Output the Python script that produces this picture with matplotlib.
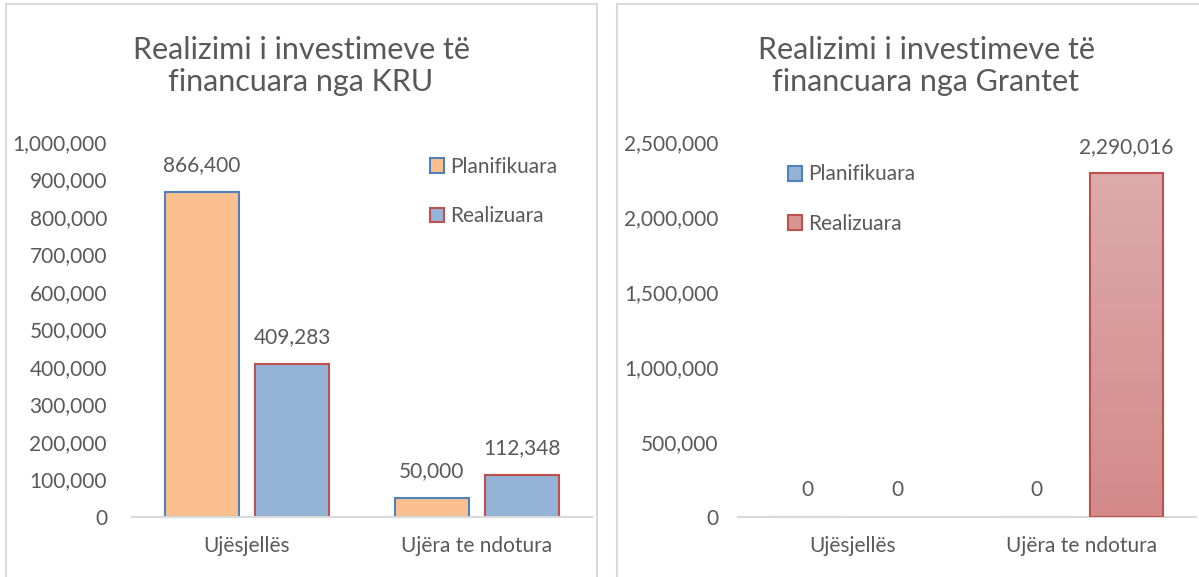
import matplotlib.pyplot as plt
import numpy as np
from matplotlib.patches import Rectangle
from matplotlib.ticker import FuncFormatter
from matplotlib.colors import LinearSegmentedColormap

plt.rcParams['font.family'] = ['Lato', 'DejaVu Sans']

kategorite = ['Ujësjellës', 'Ujëra te ndotura']
seritë = ['Planifikuara', 'Realizuara']
kru_plan = [866400, 50000]
kru_real = [409283, 112348]
grant_plan = [0, 0]
grant_real = [0, 2290016]

gri = '#595959'
blu_fill, blu_edge = '#95B3D7', '#4F81BD'
port_fill = '#FAC090'
kuq_edge = '#C0504D'

W, H = 1199, 577
fig = plt.figure(figsize=(W / 100, H / 100), dpi=100)

# korniza e paneleve
for x0, x1 in [(6, 597), (617, 1205)]:
    fig.patches.append(Rectangle((x0 / W, -0.01), (x1 - x0) / W, (H - 4) / H + 0.01,
                                 transform=fig.transFigure, fill=False,
                                 edgecolor='#D9D9D9', lw=1.5))

fmt = FuncFormatter(lambda v, p: f'{int(v):,}')


def style(ax, ymax, step, pad_y):
    ax.set_xlim(-0.5, 1.5)
    ax.set_ylim(0, ymax)
    ax.set_yticks(np.arange(0, ymax + 1, step))
    ax.yaxis.set_major_formatter(fmt)
    ax.set_xticks([0, 1])
    ax.set_xticklabels(kategorite)
    for s in ['top', 'right', 'left']:
        ax.spines[s].set_visible(False)
    ax.spines['bottom'].set_color('#D9D9D9')
    ax.spines['bottom'].set_linewidth(1.5)
    ax.tick_params(axis='both', length=0, labelsize=15, colors=gri)
    ax.tick_params(axis='y', pad=pad_y)
    ax.tick_params(axis='x', pad=14)
    ax.patch.set_visible(False)


def etiketat(ax, bars, vals):
    for r, v in zip(bars, vals):
        ax.annotate(f'{v:,}', (r.get_x() + r.get_width() / 2, v), xytext=(0, 12),
                    textcoords='offset points', ha='center', va='bottom',
                    fontsize=15, color=gri)


x = np.arange(len(kategorite))
off, bw = 0.196, 0.32

# --- majtas: KRU ---
ax1 = fig.add_axes([132 / W, (H - 517) / H, 460 / W, 375 / H])
style(ax1, 1000000, 100000, 18)
b1 = ax1.bar(x - off, kru_plan, bw, color=port_fill, edgecolor=blu_edge, lw=1.5)
b2 = ax1.bar(x + off, kru_real, bw, color=blu_fill, edgecolor=kuq_edge, lw=1.5)
etiketat(ax1, b1, kru_plan)
etiketat(ax1, b2, kru_real)
h1 = [Rectangle((0, 0), 1, 1, fc=port_fill, ec=blu_edge, lw=1.5),
      Rectangle((0, 0), 1, 1, fc=blu_fill, ec=kuq_edge, lw=1.5)]
ax1.legend(h1, seritë, loc='upper left', bbox_to_anchor=(279 / 460, 1.01), frameon=False,
           fontsize=15, labelcolor=gri, labelspacing=1.4, handlelength=0.7,
           handleheight=0.7, handletextpad=0.3)
fig.text(301 / W, 1 - 66 / H, 'Realizimi i investimeve të\nfinancuara nga KRU',
         ha='center', va='center', fontsize=22, color=gri, linespacing=1.2)

# --- djathtas: Grantet ---
ax2 = fig.add_axes([738 / W, (H - 517) / H, 458 / W, 375 / H])
style(ax2, 2500000, 500000, 14)
g1 = ax2.bar(x - off, grant_plan, bw, color=blu_fill, edgecolor=blu_edge, lw=1.5)
g2 = ax2.bar(x + off, grant_real, bw, color='none', edgecolor='none', lw=0)
grad = np.linspace(0, 1, 256).reshape(-1, 1)
cm = LinearSegmentedColormap.from_list('kuq', ['#D38A89', '#DDABAA'])
for r, v in zip(g2, grant_real):
    if v > 0:
        x0 = r.get_x()
        ax2.imshow(grad, cmap=cm, aspect='auto', origin='lower',
                   extent=[x0, x0 + bw, 0, v], zorder=2)
        ax2.add_patch(Rectangle((x0, 0), bw, v, fill=False, ec=kuq_edge, lw=1.5, zorder=3))
ax2.set_xlim(-0.5, 1.5)
ax2.set_ylim(0, 2500000)
etiketat(ax2, g1, grant_plan)
etiketat(ax2, g2, grant_real)
h2 = [Rectangle((0, 0), 1, 1, fc=blu_fill, ec=blu_edge, lw=1.5),
      Rectangle((0, 0), 1, 1, fc='#D99594', ec=kuq_edge, lw=1.5)]
ax2.legend(h2, seritë, loc='upper left', bbox_to_anchor=(31 / 458, 0.99), frameon=False,
           fontsize=15, labelcolor=gri, labelspacing=1.4, handlelength=0.7,
           handleheight=0.7, handletextpad=0.3)
fig.text(926 / W, 1 - 66 / H, 'Realizimi i investimeve të\nfinancuara nga Grantet',
         ha='center', va='center', fontsize=22, color=gri, linespacing=1.2)

fig.savefig('out.png', dpi=100)
